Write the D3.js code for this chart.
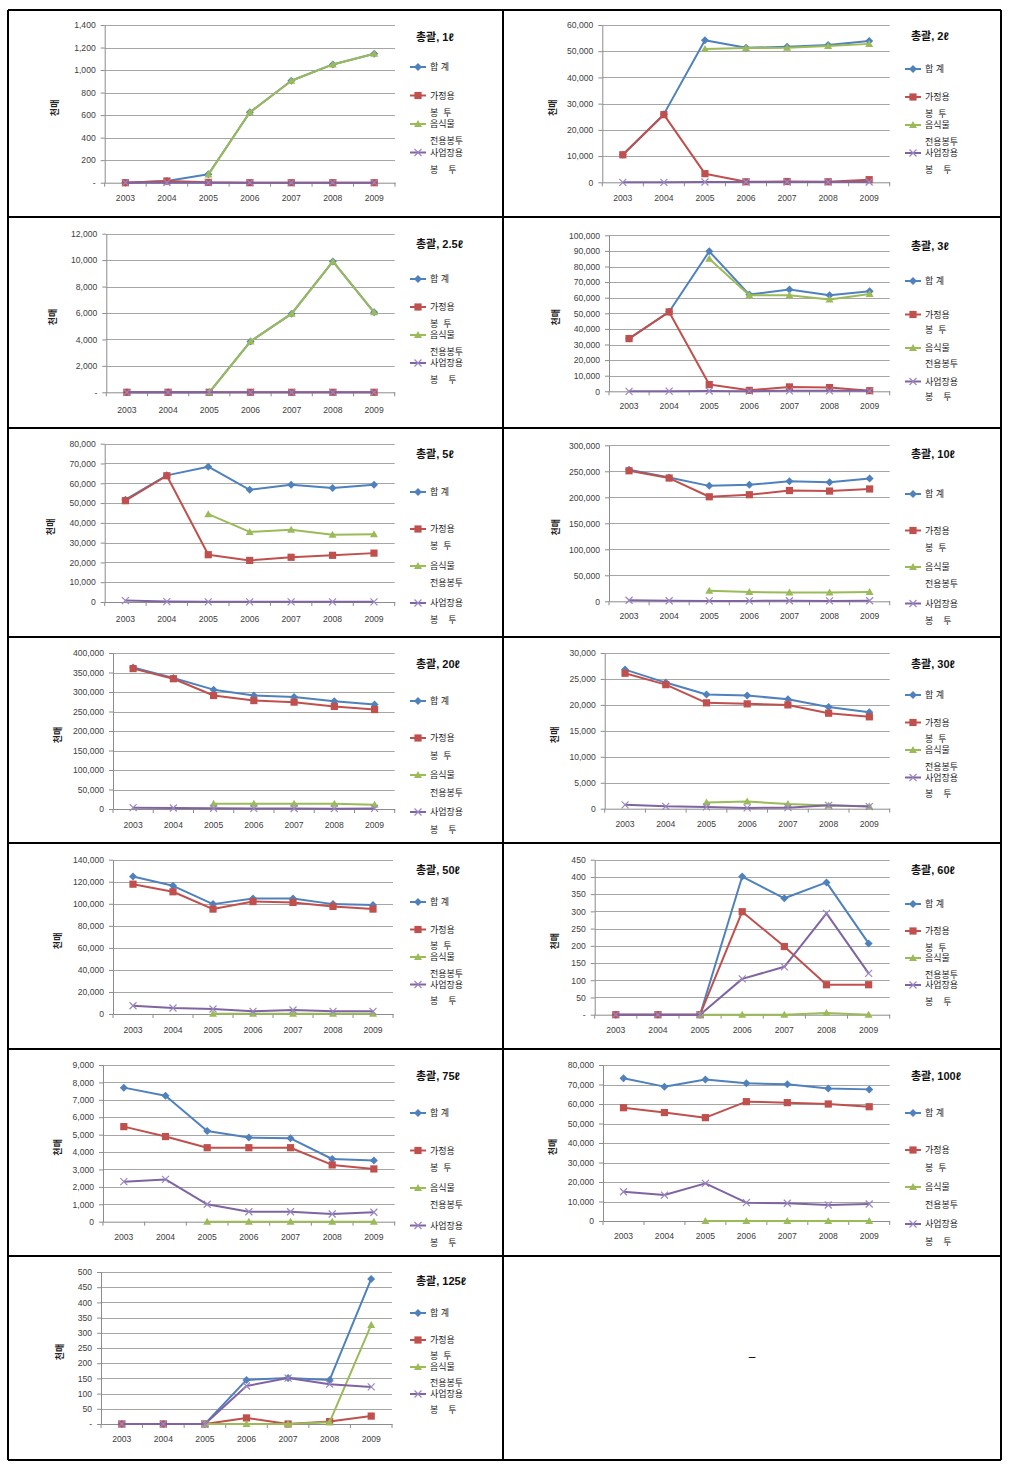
<!DOCTYPE html>
<html><head><meta charset="utf-8">
<script src="https://cdn.jsdelivr.net/npm/d3@7"></script>
<style>body{margin:0;background:#fff} svg{display:block}</style>
</head><body>
<svg id="chart" width="1014" height="1469"></svg>
<script>
// ---------- DATA ----------
const years = ["2003","2004","2005","2006","2007","2008","2009"];
const seriesNames = [["합 계"], ["가정용","봉  투"], ["음식물","전용봉투"], ["사업장용","봉    투"]];
const yAxisTitle = "천매";
const panelTitles = ["총괄, 1ℓ","총괄, 2ℓ","총괄, 2.5ℓ","총괄, 3ℓ","총괄, 5ℓ","총괄, 10ℓ","총괄, 20ℓ","총괄, 30ℓ","총괄, 50ℓ","총괄, 60ℓ","총괄, 75ℓ","총괄, 100ℓ","총괄, 125ℓ"];
const yMax  = [1400, 60000, 12000, 100000, 80000, 300000, 400000, 30000, 140000, 450, 9000, 80000, 500];
const yStep = [200, 10000, 2000, 10000, 10000, 50000, 50000, 5000, 20000, 50, 1000, 10000, 50];
const zeroLabels = ["-","0","-","0","0","0","0","0","0","-","0","0","-"];

const total = [
  [0, 15, 75, 625, 905, 1050, 1145],
  [10500, 26000, 54200, 51300, 51700, 52400, 53900],
  [0, 0, 0, 3850, 5950, 9900, 6050],
  [33800, 51000, 89700, 62000, 65200, 61500, 64100],
  [51700, 64000, 68400, 56700, 59300, 57600, 59300],
  [253000, 238000, 222000, 224000, 231000, 229000, 236000],
  [363000, 336000, 306000, 291000, 287000, 276000, 268000],
  [26800, 24300, 22000, 21800, 21100, 19600, 18600],
  [124800, 116300, 99700, 104800, 104800, 99700, 98800],
  [0, 0, 0, 401, 338, 384, 207],
  [7700, 7240, 5210, 4830, 4790, 3600, 3510],
  [73200, 68900, 72600, 70600, 70100, 68000, 67500],
  [0, 0, 0, 145, 151, 145, 477]
];
const household = [
  [0, 15, 3, 0, 0, 0, 0],
  [10500, 25800, 3300, 200, 300, 200, 1000],
  [0, 0, 0, 0, 0, 0, 0],
  [33800, 50900, 4300, 600, 2800, 2400, 400],
  [51200, 63800, 23900, 21000, 22600, 23600, 24700],
  [251000, 237000, 201000, 205000, 213000, 212000, 216000],
  [360000, 334000, 291000, 278000, 274000, 263000, 255000],
  [26100, 23900, 20400, 20200, 20000, 18400, 17700],
  [117800, 110900, 95200, 102000, 101200, 97600, 95200],
  [0, 0, 0, 299, 198, 87, 87],
  [5460, 4890, 4250, 4250, 4250, 3260, 3030],
  [58100, 55600, 53000, 61200, 60700, 60000, 58600],
  [0, 0, 0, 20, 0, 8, 26]
];
const food = [
  [null, null, 72, 625, 905, 1050, 1145],
  [null, null, 50800, 51200, 51300, 52000, 52800],
  [null, null, 0, 3850, 5950, 9900, 6050],
  [null, null, 85000, 61500, 61500, 58800, 62400],
  [null, null, 44400, 35400, 36500, 34000, 34300],
  [null, null, 20500, 18000, 16700, 16700, 18000],
  [null, null, 13700, 13500, 13500, 13200, 11000],
  [null, null, 1200, 1400, 900, 600, 450],
  [null, null, 300, 300, 300, 300, 300],
  [null, null, 0, 0, 0, 5, 0],
  [null, null, 0, 0, 0, 0, 0],
  [null, null, 0, 0, 0, 0, 0],
  [null, null, 0, 0, 0, 6, 326]
];
const business = [
  [0, 0, 0, 0, 0, 0, 0],
  [0, 0, 100, 100, 100, 100, 100],
  [0, 0, 0, 0, 0, 0, 0],
  [0, 100, 200, 100, 300, 300, 300],
  [700, 200, 100, 100, 100, 100, 100],
  [2000, 1000, 800, 800, 1000, 800, 1000],
  [3500, 2500, 1800, 1500, 1200, 900, 1500],
  [750, 450, 350, 150, 200, 650, 400],
  [7500, 5400, 4500, 2400, 3600, 2400, 2400],
  [0, 0, 0, 104, 139, 294, 120],
  [2300, 2430, 1000, 570, 570, 440, 540],
  [15000, 13300, 19300, 9400, 9100, 8200, 8700],
  [0, 0, 0, 125, 151, 131, 122]
];

// ---------- LAYOUT (positions only) ----------
const layout = [
 {col:8,   L:104.7, R:395,   T:25,     B:182.7,  yearY:198,    labX:55,    titleY:36.7, lg:[67,28.5,17]},
 {col:503, L:602.3, R:889.7, T:25,     B:182.3,  yearY:197.7,  labX:553,   titleY:36,   lg:[69,28,17]},
 {col:8,   L:106.3, R:394.7, T:233.7,  B:392.3,  yearY:409.7,  labX:53,    titleY:244,  lg:[279,28,17]},
 {col:503, L:609,   R:889.7, T:235.3,  B:391.3,  yearY:406,    labX:555.7, titleY:246,  lg:[281,33.5,15.5]},
 {col:8,   L:104.7, R:394.7, T:443.7,  B:602,    yearY:618.7,  labX:51,    titleY:454,  lg:[492,37,17]},
 {col:503, L:609,   R:889.7, T:445.3,  B:601.3,  yearY:616.3,  labX:555.7, titleY:454,  lg:[494,36.5,17]},
 {col:8,   L:113,   R:394.7, T:653,    B:809,    yearY:824.7,  labX:58,    titleY:664,  lg:[701,37,17.5]},
 {col:503, L:604.7, R:889.7, T:653,    B:808.7,  yearY:823.7,  labX:554.7, titleY:664,  lg:[695,27.5,16.5]},
 {col:8,   L:113,   R:393,   T:859.7,  B:1014,   yearY:1030,   labX:58,    titleY:870,  lg:[902,27.5,16.5]},
 {col:503, L:594.7, R:889.7, T:859.7,  B:1014.7, yearY:1030,   labX:554.7, titleY:870,  lg:[904,27,17]},
 {col:8,   L:103,   R:394.7, T:1065,   B:1221.7, yearY:1236.7, labX:58,    titleY:1076, lg:[1113,37.5,17]},
 {col:503, L:603,   R:889.7, T:1065,   B:1221,   yearY:1236,   labX:553,   titleY:1076, lg:[1113,37,18]},
 {col:8,   L:101,   R:392,   T:1272,   B:1424,   yearY:1439,   labX:60,    titleY:1281, lg:[1313,27,16]}
];

const colors = ["#4F81BD", "#C0504D", "#9BBB59", "#8064A2"];
const FONT = "'Liberation Sans', 'Noto Sans CJK KR', sans-serif";
const svg = d3.select("#chart").style("font-family", FONT);

// ---------- table frame ----------
const rowLines = [10, 217, 428, 637, 843, 1049, 1256, 1460];
const frame = svg.append("g").attr("stroke", "#000").attr("stroke-width", 1.2).attr("shape-rendering", "crispEdges");
rowLines.forEach(yy => frame.append("line").attr("x1", 8).attr("x2", 1001).attr("y1", yy).attr("y2", yy));
[8, 503, 1001].forEach(xx => frame.append("line").attr("x1", xx).attr("x2", xx).attr("y1", 10).attr("y2", 1460));
svg.append("text").attr("x", 752).attr("y", 1357).attr("text-anchor", "middle").attr("dominant-baseline", "central")
   .attr("font-size", 12).attr("fill", "#000").text("–");

// ---------- markers ----------
function marker(g, type, color, cx, cy) {
  if (type === 0) {
    g.append("path").attr("d", `M${cx},${cy-4}L${cx+4},${cy}L${cx},${cy+4}L${cx-4},${cy}Z`).attr("fill", color);
  } else if (type === 1) {
    g.append("rect").attr("x", cx-3.6).attr("y", cy-3.6).attr("width", 7.2).attr("height", 7.2).attr("fill", color);
  } else if (type === 2) {
    g.append("path").attr("d", `M${cx},${cy-4}L${cx+4},${cy+3}L${cx-4},${cy+3}Z`).attr("fill", color);
  } else {
    g.append("path").attr("d", `M${cx-3.5},${cy-3.5}L${cx+3.5},${cy+3.5}M${cx-3.5},${cy+3.5}L${cx+3.5},${cy-3.5}`)
     .attr("stroke", "#9A86C0").attr("stroke-width", 1.2).attr("fill", "none");
  }
}

const fmt = d3.format(",");

panelTitles.forEach((title, i) => {
  const lay = layout[i];
  const g = svg.append("g");
  const x = d3.scaleBand().domain(years).range([lay.L, lay.R]);
  const y = d3.scaleLinear().domain([0, yMax[i]]).range([lay.B, lay.T]);
  const ticks = d3.range(0, yMax[i] + yStep[i] / 2, yStep[i]);

  // gridlines
  g.append("g").selectAll("line").data(ticks.slice(1)).join("line")
    .attr("x1", lay.L).attr("x2", lay.R)
    .attr("y1", d => Math.round(y(d)) + 0.5).attr("y2", d => Math.round(y(d)) + 0.5)
    .attr("stroke", "#A6A6A6").attr("stroke-width", 1);

  // y axis
  const ya = g.append("g").attr("transform", `translate(${lay.L},0)`)
    .call(d3.axisLeft(y).tickValues(ticks).tickSize(4).tickSizeOuter(0).tickPadding(5)
      .tickFormat(v => v === 0 ? zeroLabels[i] : fmt(v)));
  ya.select(".domain").attr("stroke", "#8C8C8C");
  ya.selectAll(".tick line").attr("stroke", "#8C8C8C");
  ya.selectAll(".tick text").attr("font-size", 8.6).attr("fill", "#404040").attr("font-family", FONT);

  // x axis
  const xa = g.append("g").attr("transform", `translate(0,${lay.B})`)
    .call(d3.axisBottom(x).tickSize(0).tickPadding(lay.yearY - lay.B - 3));
  xa.select(".domain").attr("stroke", "#8C8C8C");
  xa.selectAll(".tick text").attr("font-size", 8.6).attr("fill", "#404040").attr("font-family", FONT);
  g.append("g").selectAll("line").data(d3.range(years.length + 1)).join("line")
    .attr("x1", k => lay.L + k * x.step()).attr("x2", k => lay.L + k * x.step())
    .attr("y1", lay.B).attr("y2", lay.B + 4).attr("stroke", "#8C8C8C");

  // y axis title
  g.append("text").attr("transform", `translate(${lay.labX},${(lay.T + lay.B) / 2 + 4}) rotate(-90)`)
    .attr("text-anchor", "middle").attr("dominant-baseline", "central")
    .attr("font-size", 9).attr("font-weight", "bold").attr("fill", "#222").text(yAxisTitle);

  // series
  const seriesData = [total[i], household[i], food[i], business[i]];
  const cx = yr => x(yr) + x.bandwidth() / 2;
  const line = d3.line().defined(d => d != null).x((d, j) => cx(years[j])).y(d => y(d));
  seriesData.forEach((vals, s) => {
    const sg = g.append("g");
    sg.append("path").attr("d", line(vals)).attr("fill", "none")
      .attr("stroke", colors[s]).attr("stroke-width", 2).attr("stroke-linejoin", "round");
    vals.forEach((v, j) => { if (v != null) marker(sg, s, colors[s], cx(years[j]), y(v)); });
  });

  // title
  g.append("text").attr("x", lay.col + 408).attr("y", lay.titleY).attr("dominant-baseline", "central")
    .attr("font-size", 11).attr("font-weight", "bold").attr("fill", "#111").text(title);

  // legend
  const [y0, step, gap] = lay.lg;
  seriesNames.forEach((names, s) => {
    const my = y0 + s * step;
    const lg = g.append("g");
    lg.append("line").attr("x1", lay.col + 402).attr("x2", lay.col + 418).attr("y1", my).attr("y2", my)
      .attr("stroke", colors[s]).attr("stroke-width", 2);
    marker(lg, s, colors[s], lay.col + 410, my);
    names.forEach((t, k) => {
      lg.append("text").attr("x", lay.col + 422).attr("y", my + k * gap).attr("dominant-baseline", "central")
        .attr("font-size", 9).attr("fill", "#222").style("white-space", "pre").text(t);
    });
  });
});
</script>
</body></html>
